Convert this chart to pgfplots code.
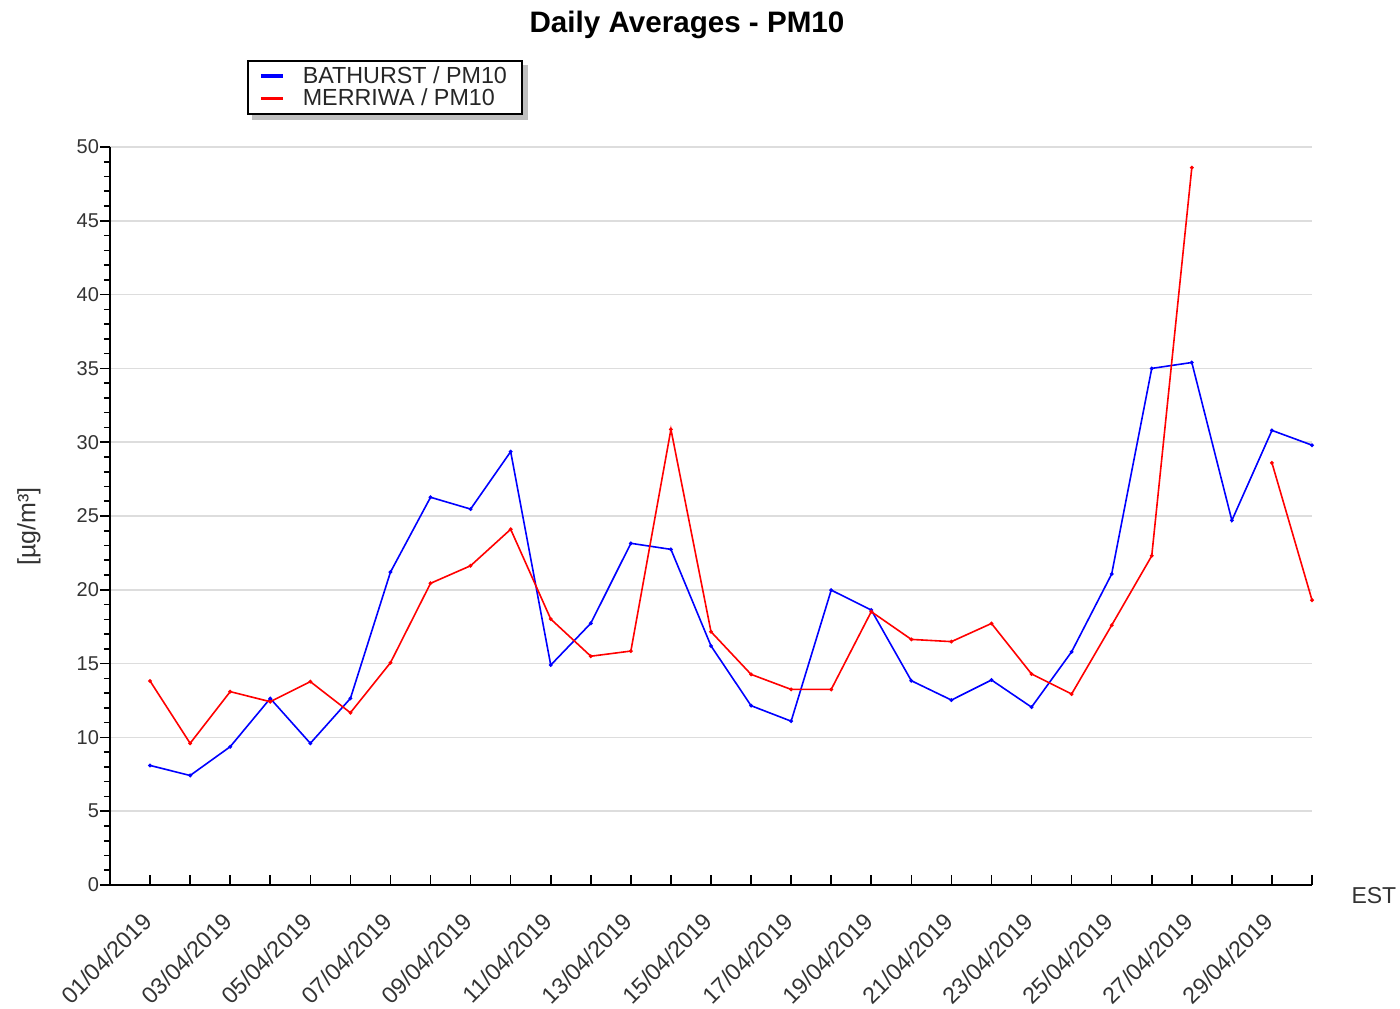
\documentclass[border=0pt]{standalone}
\usepackage{fontspec}
\setmainfont{Liberation Sans}
\usepackage{pgfplots}
\pgfplotsset{compat=1.18}
\pgfdeclarelayer{background}
\pgfsetlayers{background,main}
\definecolor{tickgray}{HTML}{333333}
\definecolor{gridgray}{HTML}{DDDDDD}
\begin{document}
\begin{tikzpicture}[x=1pt,y=1pt]
\useasboundingbox (0,0) rectangle (700,504);
\node[font=\bfseries\fontsize{14.8}{17}\selectfont, anchor=base] at (343.5,487.5) {Daily Averages - PM10};
\begin{axis}[
  at={(55pt,61.5pt)}, anchor=south west,
  scale only axis, width=601pt, height=369pt,
  xmin=0, xmax=30, ymin=0, ymax=50,
  axis lines=left, axis line style={-, line width=0.8pt, black},
  tick align=outside,
  /pgf/number format/assume math mode=true,
  xtick={1,...,30},
  xticklabels={01/04/2019,,03/04/2019,,05/04/2019,,07/04/2019,,09/04/2019,,11/04/2019,,13/04/2019,,15/04/2019,,17/04/2019,,19/04/2019,,21/04/2019,,23/04/2019,,25/04/2019,,27/04/2019,,29/04/2019,},
  ytick={0,5,...,50},
  minor ytick={0,1,...,50},
  major tick length=5pt, minor tick length=3pt,
  tick style={black, line width=0.8pt},
  xtick style={yshift=5pt},
  ymajorgrids, major grid style={gridgray, line width=0.8pt},
  ticklabel style={font=\fontsize{10}{12}\selectfont, text=tickgray},
  xticklabel style={font=\fontsize{11.6}{13}\selectfont, rotate=45, anchor=north east, yshift=0.9pt, xshift=-5.3pt},
  yticklabel style={xshift=3pt},
  ylabel={[µg/m³]},
  ylabel style={font=\fontsize{12.5}{14}\selectfont, text=tickgray, at={(axis description cs:-0.0674,0.486)}, anchor=center},
  unbounded coords=jump,
  legend style={name=leg, at={(axis description cs:0.114,1.118)}, anchor=north west,
    draw=black, line width=0.8pt, fill=white,
    font=\fontsize{11.65}{12}\selectfont, inner xsep=3pt, inner ysep=2pt,
    nodes={inner ysep=0.7pt, inner xsep=4.5pt, text=black!85},
    row sep=0pt, cells={anchor=west}},
  legend image code/.code={\draw[line width=1.6pt, mark=none] (3.5pt,0pt) -- (14.5pt,0pt); \path[draw=none] (0pt,0pt) -- (20pt,0pt);},
  clip=false,
]
\addplot[blue, line width=0.8pt, mark=*, mark size=0.5pt] coordinates {
(1,8.1)(2,7.42)(3,9.37)(4,12.64)(5,9.6)(6,12.64)(7,21.2)(8,26.27)(9,25.47)(10,29.36)
(11,14.9)(12,17.73)(13,23.15)(14,22.74)(15,16.2)(16,12.15)(17,11.1)(18,19.98)(19,18.63)(20,13.84)
(21,12.53)(22,13.89)(23,12.05)(24,15.8)(25,21.07)(26,35.0)(27,35.4)(28,24.7)(29,30.8)(30,29.8)};
\addlegendentry{BATHURST / PM10}
\addplot[red, line width=0.8pt, mark=*, mark size=0.5pt] coordinates {
(1,13.82)(2,9.6)(3,13.1)(4,12.42)(5,13.78)(6,11.67)(7,15.06)(8,20.44)(9,21.63)(10,24.1)
(11,18.02)(12,15.5)(13,15.85)(14,30.87)(15,17.16)(16,14.27)(17,13.25)(18,13.25)(19,18.52)(20,16.64)
(21,16.49)(22,17.72)(23,14.3)(24,12.94)(25,17.6)(26,22.3)(27,48.6)(28,nan)(29,28.6)(30,19.3)};
\addlegendentry{MERRIWA / PM10}
\node[font=\fontsize{11.5}{13}\selectfont, text=tickgray, anchor=west] at (axis description cs:1.027,-0.015) {EST};
\end{axis}
\begin{pgfonlayer}{background}
\fill[black!25] ([shift={(2.5pt,-2.5pt)}]leg.south west) rectangle ([shift={(2.5pt,-2.5pt)}]leg.north east);
\end{pgfonlayer}
\end{tikzpicture}
\end{document}
